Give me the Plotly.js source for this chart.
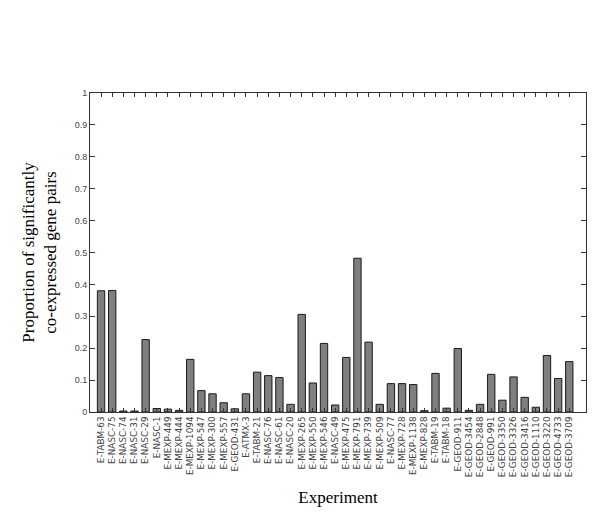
<!DOCTYPE html>
<html>
<head>
<meta charset="utf-8">
<script src="https://cdn.plot.ly/plotly-3.0.1.min.js"></script>
<style>
  body { margin: 0; background: #fff; }
  #chart { width: 600px; height: 516px; }
</style>
</head>
<body>
<div id="chart"></div>
<script>
var experiments = [
    "E-TABM-63", "E-NASC-75", "E-NASC-74", "E-NASC-31", "E-NASC-29",
    "E-NASC-1", "E-MEXP-449", "E-MEXP-444", "E-MEXP-1094", "E-MEXP-547",
    "E-MEXP-300", "E-MEXP-557", "E-GEOD-431", "E-ATMX-3", "E-TABM-21",
    "E-NASC-76", "E-NASC-61", "E-NASC-20", "E-MEXP-265", "E-MEXP-550",
    "E-MEXP-546", "E-NASC-49", "E-MEXP-475", "E-MEXP-791", "E-MEXP-739",
    "E-MEXP-509", "E-NASC-77", "E-MEXP-728", "E-MEXP-1138", "E-MEXP-828",
    "E-TABM-19", "E-TABM-18", "E-GEOD-911", "E-GEOD-3454", "E-GEOD-2848",
    "E-GEOD-991", "E-GEOD-3350", "E-GEOD-3326", "E-GEOD-3416", "E-GEOD-1110",
    "E-GEOD-3220", "E-GEOD-4733", "E-GEOD-3709"
];

var proportion = [
    0.380, 0.381, 0.003, 0.003, 0.227,
    0.011, 0.009, 0.005, 0.165, 0.067,
    0.057, 0.029, 0.010, 0.057, 0.125,
    0.114, 0.108, 0.024, 0.306, 0.091,
    0.215, 0.022, 0.171, 0.482, 0.219,
    0.024, 0.089, 0.089, 0.086, 0.004,
    0.121, 0.012, 0.199, 0.005, 0.024,
    0.118, 0.037, 0.110, 0.046, 0.015,
    0.177, 0.105, 0.158
];

var yTicks = [0, 0.1, 0.2, 0.3, 0.4, 0.5, 0.6, 0.7, 0.8, 0.9, 1];
var yTickText = ["0", "0.1", "0.2", "0.3", "0.4", "0.5", "0.6", "0.7", "0.8", "0.9", "1"];

var bars = {
    type: 'bar',
    x: experiments,
    y: proportion,
    marker: {
        color: '#7f7f7f',
        line: { color: '#1a1a1a', width: 1 }
    },
    hoverinfo: 'x+y'
};

var yTickFont = { family: 'Liberation Sans, Arial, sans-serif', size: 9, color: '#444' };
var xTickFont = { family: 'DejaVu Sans, sans-serif', size: 8.8, color: '#444' };
var titleFont = { family: 'Liberation Serif, Times New Roman, serif', size: 17, color: '#000' };

var layout = {
    width: 600,
    height: 516,
    margin: { l: 90, r: 14, t: 93, b: 104 },
    paper_bgcolor: '#fff',
    plot_bgcolor: '#fff',
    showlegend: false,
    bargap: 0.34,
    xaxis: {
        type: 'category',
        range: [-0.99, 43.5],
        tickmode: 'array',
        tickvals: experiments,
        ticktext: experiments,
        tickangle: -90,
        tickfont: xTickFont,
        ticks: 'inside',
        ticklen: 4,
        tickcolor: '#333',
        showline: true,
        linecolor: '#333',
        linewidth: 1,
        mirror: 'ticks',
        showgrid: false,
        zeroline: false,
        title: { text: 'Experiment', font: titleFont, standoff: 14 }
    },
    yaxis: {
        range: [0, 1],
        tickvals: yTicks,
        ticktext: yTickText,
        tickfont: yTickFont,
        ticks: 'inside',
        ticklen: 5,
        tickcolor: '#333',
        showline: true,
        linecolor: '#333',
        linewidth: 1,
        mirror: 'ticks',
        showgrid: false,
        zeroline: false,
        title: {
            text: 'Proportion of significantly<br>co-expressed gene pairs',
            font: titleFont,
            standoff: 13
        }
    }
};

Plotly.newPlot('chart', [bars], layout, { displayModeBar: false, staticPlot: true });
</script>
</body>
</html>
